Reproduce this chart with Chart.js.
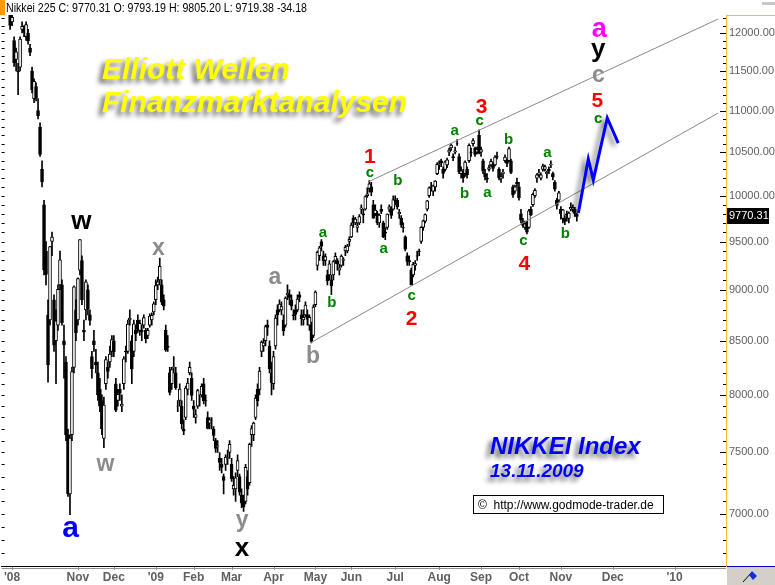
<!DOCTYPE html>
<html>
<head>
<meta charset="utf-8">
<script src="https://cdn.jsdelivr.net/npm/chart.js@4.4.0/dist/chart.umd.min.js"></script>
<style>
  html, body { margin: 0; padding: 0; background: #fff; }
  canvas { display: block; }
</style>
</head>
<body>
<canvas id="chart" width="775" height="585"></canvas>
<script>
// Nikkei 225 daily bars, 8 Sep 2008 .. 13 Nov 2009 (x = trading day index)
const opens = [
  12400,12600,12300,12250,12150,11900,11650,11500,11550,12050,12050,11950,12000,11800,11500, // Sep 08
  11150,11300,11000,10800,10300,9900,9400,8750,8700,9500,8900,8500,8650,9050,9050,8500,8300,7650,7160,7650,8250,8800, // Oct
  8700,9200,9300,8600,8800,9000,8750,8350,8500,8300,8200,8050,7950,7620,8100,8250,8300,8400, // Nov
  8500,8100,7950,8050,7900,8100,8400,8400,8700,8500,8400,8600,8700,8600,8600,8650,8600,8550,8650,8700,8780, // Dec
  8900,9050,9100,9050,8900,8600,8450,8200,8100,8250,8200,7900,7950,7900,7700,7800,8050,8200,8150, // Jan 09
  7900,7800,7900,7950,8000,8100,7950,7800,7750,7750,7700,7600,7550,7450,7400,7300,7400,7450,7500, // Feb
  7400,7200,7200,7350,7300,7150,7100,7100,7300,7250,7650,7650,7800,8050,8050,8400,8450,8500,8650,8450,8200, // Mar
  8100,8450,8800,8800,8800,8700,8650,8950,8950,8900,8750,8800,8800,8950,8750,8700,8750,8750,8650,8650,8550, // Apr
  8850,9250,9350,9500,9350,9300,9150,9150,9100,9150,9300,9300,9200,9250,9300,9400,9400,9500, // May
  9550,9750,9700,9650,9700,9850,9800,9850,10000,10080,10100,9900,9800,9800,9700,9850,9700,9600,9650,9850,9850,9850, // Jun
  9950,9950,9800,9750,9650,9550,9350,9300,9200,9150,9250,9350,9400,9500,9650,9720,9850,10000,10100,10050,10100,10250, // Jul
  10350,10400,10300,10300,10350,10500,10550,10450,10500,10600,10450,10250,10250,10250,10300,10400,10500,10600,10550,10500,10700, // Aug
  10500,10400,10250,10200,10300,10350,10350,10350,10450,10300,10200,10250,10400,10400,10400,10400,10100,10050,10150, // Sep
  10100,9800,9700,9650,9700,9650,9850,9900,10000,10200,10250,10200,10300,10300,10250,10300,10350,10250,10150,9950,9950, // Oct
  9850,9750,9750,9800,9750,9850,9850,9850,9793 // Nov
];
const highs = [
  12650,12620,12400,12300,12250,11950,11800,11600,11950,12150,12100,12150,12050,11850,11550,
  11400,11350,11150,10850,10400,9950,9500,8900,9450,9600,8950,8800,9050,9400,9100,8650,8350,7700,7650,8250,9040,8900,
  9120,9521,9350,8700,9100,9050,8800,8400,8600,8420,8300,8150,8000,7980,8350,8300,8450,8550,
  8550,8150,8050,8100,8000,8350,8450,8700,8800,8550,8700,8650,8750,8700,8650,8750,8620,8620,8760,8770,8880,
  9100,9130,9325,9100,8950,8650,8550,8250,8250,8350,8250,7950,8100,7950,7780,8080,8150,8300,8200,
  7950,7870,8050,8000,8100,8150,8000,7850,7800,7800,7720,7620,7600,7500,7450,7320,7480,7520,7600,
  7450,7300,7330,7480,7320,7200,7150,7400,7350,7580,7730,7760,8000,8100,8250,8500,8520,8650,8700,8500,8300,
  8400,8750,8850,8900,8880,8750,8930,9050,9000,8950,8800,8850,8950,8980,8800,8800,8880,8800,8750,8680,8850,
  8990,9400,9450,9520,9400,9370,9200,9300,9150,9300,9380,9320,9260,9360,9330,9460,9470,9550,
  9700,9780,9760,9700,9790,9900,9850,10000,10090,10170,10150,9950,9900,9830,9800,9900,9720,9650,9800,9900,9880,10000,
  10000,9970,9850,9780,9700,9560,9380,9350,9220,9280,9300,9400,9420,9660,9730,9800,9950,10100,10150,10120,10170,10380,
  10400,10420,10330,10400,10430,10550,10600,10480,10560,10650,10480,10330,10300,10400,10330,10600,10550,10660,10560,10560,10767,
  10560,10420,10300,10250,10350,10420,10380,10460,10500,10320,10250,10300,10470,10420,10560,10420,10120,10120,10200,
  10150,9850,9750,9720,9720,9850,9880,10030,10080,10250,10300,10260,10360,10350,10280,10330,10400,10270,10170,9970,10050,
  9880,9850,9780,9830,9820,9920,9900,9870,9805
];
const lows = [
  12380,12380,12250,12050,12100,11560,11500,11200,11500,12000,11950,11900,11850,11700,11220,
  11100,11120,10900,10450,10100,9150,9050,8115,8650,9350,8400,8100,8600,9000,8650,8150,7600,7140,6995,7600,8200,8500,
  8650,9150,8850,8500,8700,8750,8650,8150,8400,8200,7950,7850,7650,7540,8050,8150,8250,8350,
  8350,7850,7900,7950,7850,8050,8300,8380,8650,8100,8350,8500,8580,8550,8500,8620,8480,8520,8630,8650,8750,
  8850,9000,9050,8850,8800,8400,8400,8000,8050,8200,8050,7850,7900,7700,7650,7780,8000,8180,7950,
  7800,7750,7880,7900,7980,7920,7900,7700,7700,7700,7600,7500,7500,7350,7330,7160,7350,7400,7450,
  7260,7150,7100,7300,7150,7050,7021,7080,7150,7230,7550,7600,7780,7900,8000,8350,8400,8450,8550,8200,8000,
  8050,8420,8650,8780,8750,8550,8630,8900,8850,8800,8700,8700,8780,8880,8650,8650,8730,8650,8600,8480,8530,
  8830,9200,9300,9400,9250,9250,9050,9100,8950,9100,9270,9200,9150,9230,9250,9350,9380,9450,
  9540,9650,9680,9600,9680,9800,9700,9840,9980,10040,10000,9750,9780,9680,9650,9800,9540,9520,9630,9820,9750,9840,
  9900,9850,9750,9650,9600,9400,9250,9250,9050,9130,9200,9300,9350,9480,9620,9700,9830,9980,10050,10000,10050,10240,
  10300,10330,10200,10280,10320,10460,10520,10400,10480,10580,10250,10200,10150,10220,10200,10380,10450,10570,10450,10480,10480,
  10450,10250,10180,10150,10280,10330,10280,10340,10420,10180,10150,10200,10380,10330,10390,10250,9980,10030,10100,
  9950,9700,9650,9630,9580,9640,9780,9880,9980,10150,10220,10180,10280,10280,10200,10250,10320,10180,10050,9850,9930,
  9740,9700,9680,9720,9700,9830,9820,9770,9719
];
const closes = [
  12625,12400,12346,12102,12214,11609,11749,11489,11920,12090,12007,12115,11893,11743,11259,
  11368,11154,10938,10473,10156,9203,9157,8276,9447,9547,8458,8693,9005,9306,8674,8460,7649,7162,7621,8211,9029,8577,
  9114,9521,8899,8583,9081,8809,8695,8239,8462,8272,8000,7900,7703,7910,8323,8213,8373,8512,
  8397,7863,8004,8016,7917,8329,8395,8660,8720,8235,8664,8568,8612,8667,8588,8723,8517,8599,8739,8747,8859,
  9043,9080,9239,8876,8836,8413,8438,8023,8230,8256,8065,7901,8051,7745,7682,8061,8106,8251,7994,
  7873,7825,8038,7950,8076,7945,7945,7705,7779,7750,7645,7534,7557,7416,7376,7268,7461,7457,7568,
  7280,7229,7290,7433,7173,7086,7054,7376,7198,7569,7704,7750,7972,7946,8215,8488,8480,8636,8627,8236,8109,
  8351,8719,8749,8857,8832,8595,8916,8964,8924,8835,8743,8755,8907,8924,8711,8727,8847,8707,8726,8493,8828,
  8977,9385,9432,9451,9298,9340,9093,9265,9038,9290,9344,9264,9225,9347,9310,9438,9451,9522,
  9677,9704,9741,9668,9768,9865,9787,9991,10022,10135,10039,9752,9840,9703,9786,9826,9549,9590,9796,9877,9783,9958,
  9939,9876,9816,9680,9647,9420,9291,9287,9050,9261,9269,9344,9395,9652,9723,9792,9944,10088,10087,10113,10165,10357,
  10352,10375,10252,10388,10412,10524,10585,10435,10517,10597,10268,10284,10204,10383,10238,10581,10497,10639,10473,10534,10492,
  10530,10280,10214,10187,10320,10393,10312,10444,10445,10202,10217,10270,10443,10370,10544,10265,10009,10100,10133,
  9978,9731,9674,9691,9599,9832,9790,10016,10060,10238,10257,10236,10337,10333,10267,10282,10362,10212,10075,9891,10034,
  9802,9844,9717,9789,9808,9870,9872,9804,9770
];

// x axis: month starts (trading-day index, calendar days after the last bar)
const monthIdx = [4, 37, 55, 76, 95, 114, 135, 156, 174, 196, 218, 239, 258, 279, 305, 336];
const monthLabels = ["'08", "Nov", "Dec", "'09", "Feb", "Mar", "Apr", "May", "Jun", "Jul", "Aug", "Sep", "Oct", "Nov", "Dec", "'10"];
const priceTicks = [7000, 7500, 8000, 8500, 9000, 9500, 10000, 10500, 11000, 11500, 12000];
const lastClose = 9770.31;

// trend channel
const lowerChannelIdx = [153.5, 357.75];
const lowerChannelVal = [8480, 10970];
const upperChannelIdx = [182.75, 357.75];
const upperChannelVal = [10160, 12190];

// expected path (blue)
const projIdx = [287.75, 292.75, 295.25, 302.25, 307.75];
const projVal = [9808, 10420, 10177, 10910, 10608];

// wave count labels: text, degree, anchor (index, value at baseline)
const waveText = ["a","w","w","x","y","x","a","b","a","b","a","b","1","c","c","2","a","c","3","b","a","b","c","4","a","b","a","y","c","5","c"];
const waveDegree = ["blue","black","gray","gray","gray","black","gray","gray","green","green","green","green","red","green","green","red","green","green","red","green","green","green","green","red","green","green","magenta","black","gray","red","green"];
const waveIdx = [33.25,38.75,50.75,77.25,119.25,119.25,135.75,154.75,159.75,164.25,190.25,197.25,183.25,183.25,204.25,204.25,225.75,238.25,239.25,230.75,242.25,252.75,260.25,260.75,272.25,281.25,298.25,297.75,297.75,297.25,297.75];
const waveVal = [6822,9634,7346,9357,6899,6678,9058,8291,9548,8828,9378,10121,10373,10212,8897,8652,10704,10824,10971,9974,9985,10596,9462,9200,10444,9537,11946,11682,11359,11045,10848];

const degreeStyle = {
  green:   { color: "#008000", font: "bold 15px 'Liberation Sans', Arial" },
  red:     { color: "#ff0000", font: "bold 21px 'Liberation Sans', Arial" },
  gray:    { color: "#8c8c8c", font: "bold 23px 'Liberation Sans', Arial" },
  black:   { color: "#000000", font: "bold 26px 'Liberation Sans', Arial" },
  blue:    { color: "#0000ff", font: "bold 30px 'Liberation Sans', Arial" },
  magenta: { color: "#ff00ff", font: "bold 27px 'Liberation Sans', Arial" }
};

const bodies = closes.map((c, i) => ({ x: i, y: [Math.min(opens[i], c), Math.max(opens[i], c)] }));
const wicks = highs.map((h, i) => ({ x: i, y: [lows[i], h] }));
const bodyColors = closes.map((c, i) => (c >= opens[i] ? "#ffffff" : "#000000"));
const pts = (xs, ys) => xs.map((x, i) => ({ x: x, y: ys[i] }));

const FONT = "'Liberation Sans', Arial, sans-serif";

const decor = {
  id: "decor",
  beforeDraw(chart) {
    const ctx = chart.ctx;
    ctx.save();
    ctx.fillStyle = "#fff";
    ctx.fillRect(0, 0, chart.width, chart.height);
    ctx.restore();
  },
  beforeDatasetDraw(chart, args) {
    if (chart.data.datasets[args.index].label === "Prognose") {
      const ctx = chart.ctx;
      ctx.save();
      ctx.shadowColor = "rgba(0,0,0,0.55)";
      ctx.shadowBlur = 5;
      ctx.shadowOffsetX = -4;
      ctx.shadowOffsetY = 3;
    }
  },
  afterDatasetDraw(chart, args) {
    if (chart.data.datasets[args.index].label === "Prognose") chart.ctx.restore();
  },
  afterDatasetsDraw(chart) {
    const ctx = chart.ctx;
    const x = chart.scales.x, y = chart.scales.y;
    ctx.save();
    ctx.textAlign = "center";
    ctx.textBaseline = "alphabetic";
    waveText.forEach((t, i) => {
      const st = degreeStyle[waveDegree[i]];
      ctx.font = st.font;
      ctx.fillStyle = st.color;
      ctx.fillText(t, x.getPixelForValue(waveIdx[i]), y.getPixelForValue(waveVal[i]));
    });
    ctx.restore();
  },
  afterDraw(chart) {
    const ctx = chart.ctx;
    const a = chart.chartArea;
    const x = chart.scales.x, y = chart.scales.y;
    ctx.save();

    // price axis tick marks, both sides
    ctx.strokeStyle = "#000";
    ctx.lineWidth = 1;
    for (let v = 6700; v <= 12200; v += 100) {
      const py = Math.round(y.getPixelForValue(v)) + 0.5;
      const len = v % 500 === 0 ? 6 : 3;
      ctx.beginPath();
      ctx.moveTo(a.right - len, py); ctx.lineTo(a.right, py);
      ctx.moveTo(a.left, py); ctx.lineTo(a.left + 3, py);
      ctx.stroke();
    }
    // top border of the price axis
    ctx.strokeStyle = "#f0c020";
    ctx.beginPath();
    ctx.moveTo(a.right, a.top + 0.5); ctx.lineTo(chart.width, a.top + 0.5);
    ctx.stroke();

    // time axis: second grey line and small month marks
    ctx.strokeStyle = "#909090";
    ctx.beginPath();
    ctx.moveTo(a.left, a.bottom + 2.5); ctx.lineTo(a.right, a.bottom + 2.5);
    monthIdx.forEach(m => {
      const px = Math.round(x.getPixelForValue(m)) + 0.5;
      ctx.moveTo(px, a.bottom + 1); ctx.lineTo(px, a.bottom + 4);
    });
    ctx.stroke();

    // last price box
    const ly = y.getPixelForValue(lastClose);
    ctx.fillStyle = "#000";
    ctx.fillRect(a.right + 1, Math.round(ly) - 8, 42, 16);
    ctx.fillStyle = "#fff";
    ctx.font = "11px " + FONT;
    ctx.textAlign = "left";
    ctx.textBaseline = "middle";
    ctx.fillText(lastClose.toFixed(2), a.right + 3, Math.round(ly));

    // corner box
    ctx.fillStyle = "#d4d0c8";
    ctx.fillRect(a.right + 1, a.bottom + 1, chart.width - a.right, chart.height - a.bottom);
    ctx.strokeStyle = "#0000c0";
    ctx.beginPath();
    ctx.moveTo(a.right + 1, a.bottom + 0.5); ctx.lineTo(chart.width, a.bottom + 0.5);
    ctx.stroke();
    ctx.strokeStyle = "#000";
    ctx.beginPath();
    ctx.moveTo(743, 582); ctx.lineTo(752, 572);
    ctx.stroke();
    ctx.fillStyle = "#1030e0";
    ctx.beginPath();
    ctx.moveTo(749, 575); ctx.lineTo(752, 571); ctx.lineTo(757, 576); ctx.lineTo(753, 580);
    ctx.closePath(); ctx.fill();

    // header line
    ctx.fillStyle = "#ff9900";
    ctx.fillRect(0, 0, 5, 15);
    ctx.fillStyle = "#c8c8c8";
    ctx.fillRect(762, 2, 13, 3);
    ctx.fillStyle = "#000";
    ctx.font = "12px " + FONT;
    ctx.textAlign = "left";
    ctx.textBaseline = "alphabetic";
    ctx.fillText("Nikkei 225 C: 9770.31 O: 9793.19 H: 9805.20 L: 9719.38 -34.18", 6, 12, 301);

    // titles with soft shadow
    ctx.shadowColor = "rgba(0,0,0,0.6)";
    ctx.shadowBlur = 5;
    ctx.shadowOffsetX = -4;
    ctx.shadowOffsetY = 4;
    ctx.fillStyle = "#ffff00";
    ctx.font = "italic bold 30px " + FONT;
    ctx.fillText("Elliott Wellen", 102, 79);
    ctx.fillText("Finanzmarktanalysen", 102, 112);
    ctx.fillStyle = "#0000ff";
    ctx.font = "italic bold 24px " + FONT;
    ctx.fillText("NIKKEI Index", 490, 454);
    ctx.font = "italic bold 19px " + FONT;
    ctx.fillText("13.11.2009", 490, 477);
    ctx.shadowColor = "transparent";
    ctx.shadowBlur = 0;
    ctx.shadowOffsetX = 0;
    ctx.shadowOffsetY = 0;

    // source box
    ctx.fillStyle = "#fff";
    ctx.fillRect(473, 495, 190, 18);
    ctx.strokeStyle = "#000";
    ctx.strokeRect(473.5, 495.5, 190, 18);
    ctx.fillStyle = "#000";
    ctx.font = "12px " + FONT;
    ctx.fillText("\u00a9  http://www.godmode-trader.de", 478, 509);

    ctx.restore();
  }
};

new Chart(document.getElementById("chart"), {
  type: "bar",
  data: {
    datasets: [
      { type: "line", label: "Prognose", data: pts(projIdx, projVal), borderColor: "#0000ff", borderWidth: 3, pointRadius: 0, tension: 0, order: 0 },
      { type: "line", label: "Trendkanal unten", data: pts(lowerChannelIdx, lowerChannelVal), borderColor: "#8a8a8a", borderWidth: 1, pointRadius: 0, order: 1 },
      { type: "line", label: "Trendkanal oben", data: pts(upperChannelIdx, upperChannelVal), borderColor: "#8a8a8a", borderWidth: 1, pointRadius: 0, order: 1 },
      { label: "Body", data: bodies, backgroundColor: bodyColors, borderColor: "#000", borderWidth: 1, borderSkipped: false, barThickness: 3, grouped: false, order: 2 },
      { label: "Range", data: wicks, backgroundColor: "#000", borderWidth: 0, barThickness: 1, grouped: false, order: 3 }
    ]
  },
  options: {
    responsive: false,
    animation: false,
    events: [],
    layout: { padding: { top: 15, left: 0, right: 0, bottom: 0 } },
    plugins: { legend: { display: false }, tooltip: { enabled: false } },
    scales: {
      x: {
        type: "linear",
        min: -1.25,
        max: 361.75,
        offset: false,
        grid: { display: false, drawTicks: false, offset: false },
        border: { display: true, color: "#000", width: 1 },
        afterBuildTicks: s => { s.ticks = monthIdx.map(v => ({ value: v })); },
        afterFit: s => { s.height = 19; },
        ticks: {
          autoSkip: false,
          maxRotation: 0,
          padding: 4,
          color: "#606060",
          font: { family: FONT, size: 12, weight: "bold" },
          callback: v => monthLabels[monthIdx.indexOf(v)]
        }
      },
      y: {
        type: "logarithmic",
        position: "right",
        min: 6604,
        max: 12245,
        grid: { display: false, drawTicks: false },
        border: { display: true, color: "#f0c020", width: 1 },
        afterBuildTicks: s => { s.ticks = priceTicks.map(v => ({ value: v })); },
        afterFit: s => { s.width = 49; },
        ticks: {
          padding: 3,
          color: "#606060",
          font: { family: FONT, size: 11 },
          callback: v => Number(v).toFixed(2)
        }
      }
    }
  },
  plugins: [decor]
});
</script>
</body>
</html>
